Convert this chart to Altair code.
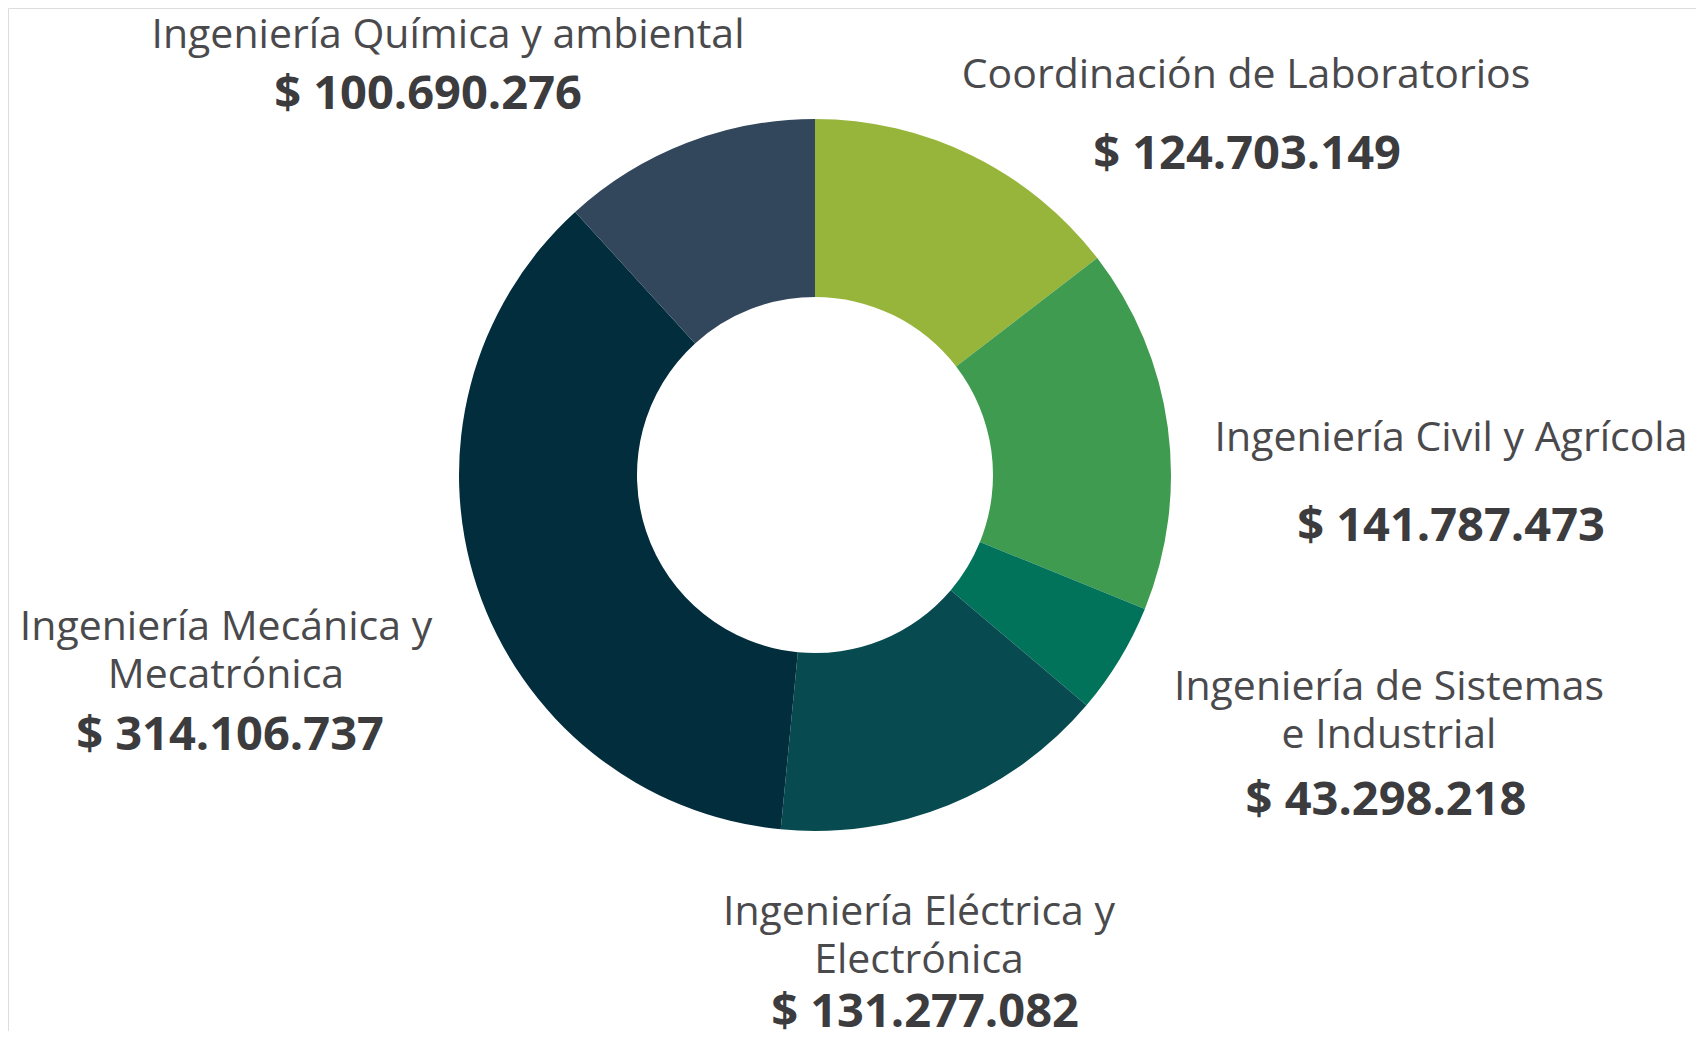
import altair as alt
import pandas as pd

# ---- data ----
categories = [
    "Coordinación de Laboratorios",
    "Ingeniería Civil y Agrícola",
    "Ingeniería de Sistemas\ne Industrial",
    "Ingeniería Eléctrica y\nElectrónica",
    "Ingeniería Mecánica y\nMecatrónica",
    "Ingeniería Química y ambiental",
]
values = [124703149, 141787473, 43298218, 131277082, 314106737, 100690276]
colors = ["#97b53b", "#3f9b4f", "#00735a", "#074b50", "#022d3c", "#33475c"]

# ---- layout (label anchors in page pixels) ----
label_x = [1246, 1451, 1389, 919, 226, 448]
label_y = [76, 439, 688, 913, 628, 36]
value_x = [1247, 1451, 1386, 925, 230, 428]
value_y = [155, 527, 801, 1013, 736, 95]
line_gap = 48
OFF = 8  # page margin
CX, CY = 815, 475
R_OUT, R_IN = 356, 178

arc_df = pd.DataFrame({
    "category": categories,
    "value": values,
    "idx": list(range(len(categories))),
})

rows = []
for i, cat in enumerate(categories):
    for j, line in enumerate(cat.split("\n")):
        rows.append({"text": line, "x": label_x[i] - OFF, "y": label_y[i] + j * line_gap - OFF})
lab_df = pd.DataFrame(rows)

val_df = pd.DataFrame({
    "text": ["$ " + f"{v:,}".replace(",", ".") for v in values],
    "x": [x - OFF for x in value_x],
    "y": [y - OFF for y in value_y],
})

arc = alt.Chart(arc_df).mark_arc(outerRadius=R_OUT, innerRadius=R_IN).encode(
    theta=alt.Theta("value:Q", stack=True),
    color=alt.Color("category:N", scale=alt.Scale(domain=categories, range=colors), legend=None),
    order=alt.Order("idx:Q"),
    x=alt.value(CX - OFF),
    y=alt.value(CY - OFF),
)

labels = alt.Chart(lab_df).mark_text(
    font="Open Sans", fontSize=41, color="#4a4a4d", align="center", baseline="middle"
).encode(
    x=alt.X("x:Q", scale=None, axis=None),
    y=alt.Y("y:Q", scale=None, axis=None),
    text="text:N",
)

vals = alt.Chart(val_df).mark_text(
    font="Open Sans", fontSize=47, fontWeight="bold", color="#3c3c3f", align="center", baseline="middle"
).encode(
    x=alt.X("x:Q", scale=None, axis=None),
    y=alt.Y("y:Q", scale=None, axis=None),
    text="text:N",
)

chart = alt.layer(arc, labels, vals).properties(
    width=1688, height=1023,
    autosize=alt.AutoSizeParams(type="none"),
    padding=0,
).configure_view(stroke="transparent", strokeWidth=0).configure(background="white")

chart.save("out.html", embed_options={"renderer": "svg", "actions": False})
